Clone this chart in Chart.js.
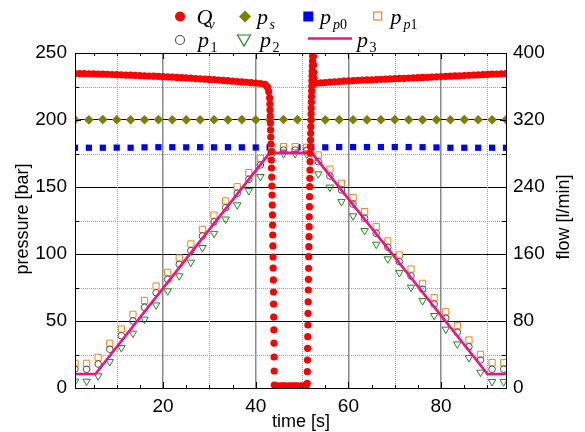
<!DOCTYPE html>
<html><head><meta charset="utf-8">
<script src="https://cdn.jsdelivr.net/npm/chart.js@4.4.0/dist/chart.umd.min.js"></script>
<style>
html,body{margin:0;padding:0;background:#fff;}
#wrap{position:relative;width:585px;height:432px;overflow:hidden;}
canvas{position:absolute;left:0;top:0;}
svg{position:absolute;left:0;top:0;}
.t{font-family:'Liberation Serif','Times New Roman',serif;font-style:italic;font-size:22px;fill:#000;}
.s{font-family:'Liberation Serif','Times New Roman',serif;font-style:italic;font-size:14px;fill:#000;}
.n{font-style:normal;}
.ax{font-family:'Liberation Sans',Arial,sans-serif;font-size:18px;fill:#000;}
</style></head><body>
<div id="wrap">
<canvas id="c" width="585" height="432"></canvas>
<svg width="585" height="432" xmlns="http://www.w3.org/2000/svg">
  <!-- legend row 1 -->
  <circle cx="180" cy="16.5" r="5" fill="#ff0000"/>
  <text class="t" x="196.5" y="24">Q</text><text class="s" x="208.5" y="28.5">v</text>
  <polygon points="245,10.5 251,16.5 245,22.5 239,16.5" fill="#808000"/>
  <text class="t" x="257" y="24">p</text><text class="s" x="269.5" y="28.5">s</text>
  <rect x="303.3" y="11.5" width="10" height="10" fill="#0000ff"/>
  <text class="t" x="320" y="24">p</text><text class="s" x="333" y="28.5">p<tspan class="n">0</tspan></text>
  <rect x="373.7" y="12" width="8" height="8" fill="#fff" stroke="#f5841f" stroke-width="1.2"/>
  <text class="t" x="390.5" y="24">p</text><text class="s" x="403.5" y="28.5">p<tspan class="n">1</tspan></text>
  <!-- legend row 2 -->
  <circle cx="180" cy="40" r="4.5" fill="none" stroke="#4d4d4d" stroke-width="1.1"/>
  <text class="t" x="198" y="47">p</text><text class="s n" x="210.5" y="51.5">1</text>
  <polygon points="237.5,35 250.5,35 244,46" fill="none" stroke="#1a8c1a" stroke-width="1.2"/>
  <text class="t" x="260" y="47">p</text><text class="s n" x="272.5" y="51.5">2</text>
  <line x1="308" y1="38.5" x2="352" y2="38.5" stroke="#ff0a82" stroke-width="2.5"/>
  <text class="t" x="357" y="47">p</text><text class="s n" x="369.5" y="51.5">3</text>
  <!-- axis titles -->
  <text class="ax" text-anchor="middle" transform="translate(28,219) rotate(-90)">pressure [bar]</text>
  <text class="ax" text-anchor="middle" transform="translate(569,217) rotate(-90)">flow [l/min]</text>
  <text class="ax" text-anchor="middle" x="301" y="427">time [s]</text>
</svg>
</div>
<script>
// ---- tick / axis values ----
const xMajorTicks = [20, 40, 60, 80];
const xMinorGrid = [10, 30, 50, 70, 90];
const yMinorGrid = [25, 75, 125, 175, 225];

// ---- Q_v : flow [l/min] (right axis) ----
const qvTime = [
  1,2,3,4,5,6,7,8,9,10,11,12,13,14,15,16,17,18,19,20,21,22,23,24,25,26,27,28,29,30,31,32,33,34,35,36,37,38,39,40,41,42,
  42.5,42.8,
  43.00,43.04,43.08,43.12,43.16,43.20,43.24,43.28,43.32,43.36,43.40,43.44,43.48,43.52,43.56,43.60,43.63,43.66,43.70,43.73,
  43.76,43.79,43.82,43.85,43.88,43.91,43.94,43.96,43.98,44.00,
  44.4,44.9,45.4,45.9,46.4,46.9,47.4,47.9,48.4,48.9,49.4,49.9,50.4,50.9,
  51.10,51.13,51.16,51.19,51.22,51.25,51.28,51.31,51.34,51.37,51.40,51.43,51.46,51.49,51.52,51.55,51.58,51.61,51.64,51.67,
  51.70,51.73,51.76,51.79,51.82,51.85,51.88,51.91,51.94,51.97,52.00,52.03,52.06,52.09,52.12,52.15,52.18,52.21,52.24,52.27,
  52.30,52.33,52.36,52.40,52.44,52.48,52.52,52.56,52.60,
  53,54,55,56,57,58,59,60,61,62,63,64,65,66,67,68,69,70,71,72,73,74,75,76,77,78,79,80,81,82,83,84,85,86,87,88,89,90,91,92,93,94
];
const qvFlow = [
  375.5,375.4,375.3,375.2,375.0,374.9,374.7,374.5,374.3,374.1,373.9,373.7,373.5,373.3,373.0,372.8,372.5,372.3,372.0,371.7,
  371.4,371.1,370.8,370.5,370.2,369.9,369.5,369.2,368.8,368.5,368.1,367.7,367.3,366.9,366.4,366.0,365.5,365.1,364.6,364.2,
  363.6,362.5,
  359.5,354.0,
  346.3,339.1,331.9,324.8,316.4,308.1,299.7,291.3,281.8,272.2,262.7,251.9,241.2,230.4,218.5,206.6,194.6,182.7,169.6,156.4,
  143.3,129.0,114.6,100.3,84.8,69.3,53.7,37.0,20.3,3.6,
  2.5,2.4,2.5,2.6,2.5,2.4,2.5,2.5,2.6,2.5,2.4,2.5,2.5,2.6,
  5.6,19.5,33.4,47.4,61.3,75.2,89.2,103.0,117.0,129.8,142.9,156.8,168.7,180.7,192.6,204.5,216.5,228.4,240.4,250.4,
  260.3,270.3,280.3,288.1,296.1,304.1,312.0,320.0,327.2,334.3,341.5,348.0,354.6,360.6,366.6,372.5,378.5,384.5,390.4,396.4,
  402,407,409,405,396,386,377,370,365,
  363.8,364.3,364.8,365.2,365.6,366.0,366.3,366.6,366.9,367.2,367.5,367.8,368.0,368.3,368.6,368.8,369.1,369.3,369.6,369.8,
  370.0,370.3,370.5,370.8,371.0,371.3,371.5,371.8,372.0,372.3,372.6,372.8,373.1,373.4,373.6,373.9,374.1,374.4,374.7,374.9,
  375.2,375.5
];

// ---- p_s and p_p0 : pressure [bar], every 3 s ----
const supplyTime = [1,4,7,10,13,16,19,22,25,28,31,34,37,40,43,46,49,52,55,58,61,64,67,70,73,76,79,82,85,88,91,94];
const ps  = [200.2,200.1,200.3,200.2,200.1,200.2,200.3,200.2,200.1,200.2,200.2,200.1,200.3,200.2,200.1,200.4,
             200.3,200.2,200.1,200.2,200.2,200.1,200.2,200.3,200.2,200.1,200.2,200.2,200.3,200.2,200.1,200.2];
const pp0 = [179.3,179.3,179.3,179.4,179.3,179.6,179.7,179.7,179.6,179.7,179.6,179.7,179.6,179.5,179.6,179.5,
             179.6,179.5,179.6,179.8,179.8,179.8,179.8,179.8,179.8,179.7,179.5,179.3,179.3,179.3,179.3,179.3];

// ---- p_p1, p_1, p_2 : pressure [bar], every 2.5 s ----
const pTime = [1,3.5,6,8.5,11,13.5,16,18.5,21,23.5,26,28.5,31,33.5,36,38.5,41,43.5,46,48.5,51,53.5,56,58.5,61,63.5,66,68.5,71,73.5,76,78.5,81,83.5,86,88.5,91,93.5];
const pp1 = [18.4,18.4,22.9,33.4,44.0,55.0,65.4,76.1,86.3,97.0,107.5,118.4,129.0,139.6,150.2,160.7,171.4,179.5,180.1,180.1,
             179.6,173.9,163.4,152.8,142.2,131.6,120.4,109.7,99.3,88.8,78.1,67.4,56.9,46.5,35.8,25.1,18.9,18.9];
const p1  = [14.2,14.0,17.9,28.9,39.0,50.0,60.2,71.1,81.1,92.3,102.5,113.4,124.0,134.6,145.3,155.7,166.4,176.5,177.6,177.6,
             177.3,168.9,158.2,147.8,137.2,126.6,115.4,105.0,94.3,83.6,73.7,62.7,52.0,41.6,30.8,20.9,14.0,14.0];
const p2  = [5.0,5.0,9.0,19.6,30.1,40.8,51.3,61.9,72.4,83.6,93.8,104.7,115.3,126.0,136.6,147.2,157.7,173.5,174.8,174.8,
             174.5,159.7,149.8,139.0,128.4,117.4,107.2,96.3,86.0,75.1,65.1,54.0,43.8,32.8,22.6,11.7,4.7,4.7];

// ---- p_3 : pressure [bar], line break points ----
const p3Time = [1, 5.4, 43.0, 52.1, 90.0, 94];
const p3     = [10.4, 10.4, 175.5, 175.5, 10.4, 10.4];

const pts = (xs, ys) => xs.map((x, i) => ({x, y: ys[i]}));

function drawMinorGrid(chart) {
  const ctx = chart.ctx, a = chart.chartArea, x = chart.scales.x, y = chart.scales.y;
  ctx.save();
  ctx.strokeStyle = '#9a9a9a'; ctx.lineWidth = 1; ctx.setLineDash([1, 1]);
  for (const v of xMinorGrid) {
    const px = Math.round(x.getPixelForValue(v)) + 0.5;
    ctx.beginPath(); ctx.moveTo(px, a.top); ctx.lineTo(px, a.bottom); ctx.stroke();
  }
  for (const v of yMinorGrid) {
    const py = Math.round(y.getPixelForValue(v)) + 0.5;
    ctx.beginPath(); ctx.moveTo(a.left, py); ctx.lineTo(a.right, py); ctx.stroke();
  }
  ctx.restore();
}

const framePlugin = {
  id: 'frame',
  beforeDatasetsDraw(chart) { drawMinorGrid(chart); },
  afterDatasetsDraw(chart) {
    const ctx = chart.ctx, a = chart.chartArea, x = chart.scales.x, y = chart.scales.y;
    ctx.save();
    ctx.setLineDash([]);
    ctx.strokeStyle = '#000'; ctx.lineWidth = 1;
    ctx.beginPath();
    for (let v = 5; v < 94; v += 5) {
      const px = Math.round(x.getPixelForValue(v)) + 0.5;
      const len = (v % 20 === 0) ? 6 : 3;
      ctx.moveTo(px, a.bottom); ctx.lineTo(px, a.bottom - len);
      ctx.moveTo(px, a.top); ctx.lineTo(px, a.top + len);
    }
    for (let v = 25; v < 250; v += 25) {
      const py = Math.round(y.getPixelForValue(v)) + 0.5;
      const len = (v % 50 === 0) ? 6 : 4;
      ctx.moveTo(a.left, py); ctx.lineTo(a.left + len, py);
      ctx.moveTo(a.right, py); ctx.lineTo(a.right - len, py);
    }
    ctx.stroke();
    ctx.strokeRect(Math.round(a.left) + 0.5, Math.round(a.top) + 0.5,
                   Math.round(a.right - a.left), Math.round(a.bottom - a.top));
    ctx.restore();
  }
};

Chart.defaults.font.family = "'Liberation Sans', Arial, sans-serif";
Chart.defaults.color = '#000';

new Chart(document.getElementById('c'), {
  type: 'scatter',
  data: {
    datasets: [
      { label: 'Qv', data: pts(qvTime, qvFlow), yAxisID: 'y2', order: 0,
        pointStyle: 'circle', pointRadius: 3.6, pointBorderWidth: 0, backgroundColor: '#ff0000', borderColor: '#ff0000', clip: 0 },
      { label: 'p3', data: pts(p3Time, p3), yAxisID: 'y', order: 1, showLine: true,
        pointRadius: 0, borderColor: '#ff0a82', borderWidth: 2.6, backgroundColor: '#ff0a82', clip: 0 },
      { label: 'p2', data: pts(pTime, p2), yAxisID: 'y', order: 2,
        pointStyle: 'triangle', rotation: 180, pointRadius: 4.3, borderWidth: 1, borderColor: '#1a8c1a', backgroundColor: 'rgba(255,255,255,0)', clip: 0 },
      { label: 'p1', data: pts(pTime, p1), yAxisID: 'y', order: 3,
        pointStyle: 'circle', pointRadius: 3.3, borderWidth: 1, borderColor: '#4d4d4d', backgroundColor: 'rgba(255,255,255,0)', clip: 0 },
      { label: 'pp1', data: pts(pTime, pp1), yAxisID: 'y', order: 4,
        pointStyle: 'rect', pointRadius: 4.4, borderWidth: 1, borderColor: '#f5841f', backgroundColor: '#ffffff', clip: 0 },
      { label: 'pp0', data: pts(supplyTime, pp0), yAxisID: 'y', order: 5,
        pointStyle: 'rect', pointRadius: 4.4, borderWidth: 0, backgroundColor: '#0000ff', borderColor: '#0000ff', clip: 0 },
      { label: 'ps', data: pts(supplyTime, ps), yAxisID: 'y', order: 6,
        pointStyle: 'rectRot', pointRadius: 4.8, borderWidth: 0, backgroundColor: '#808000', borderColor: '#808000', clip: 0 }
    ]
  },
  options: {
    responsive: false, animation: false, devicePixelRatio: 1,
    layout: { padding: { top: 53, left: 0, right: 0, bottom: 0 } },
    plugins: { legend: { display: false }, tooltip: { enabled: false } },
    scales: {
      x: {
        type: 'linear', position: 'bottom', min: 1, max: 94,
        afterBuildTicks: s => { s.ticks = xMajorTicks.map(v => ({ value: v })); },
        afterFit: s => { s.height = 44; },
        ticks: { font: { size: 19 }, padding: 7, maxRotation: 0, autoSkip: false },
        grid: { color: '#8a8a8a', lineWidth: 1.5, drawTicks: false },
        border: { display: false }
      },
      y: {
        type: 'linear', position: 'left', min: 0, max: 250,
        afterFit: s => { s.width = 75; },
        ticks: { stepSize: 50, font: { size: 19 }, padding: 8 },
        grid: { color: '#000', lineWidth: 1, drawTicks: false },
        border: { display: false }
      },
      y2: {
        type: 'linear', position: 'right', min: 0, max: 400,
        afterFit: s => { s.width = 79; },
        ticks: { stepSize: 80, font: { size: 19 }, padding: 7 },
        grid: { drawOnChartArea: false, drawTicks: false },
        border: { display: false }
      }
    }
  },
  plugins: [framePlugin]
});
</script>
</body></html>
